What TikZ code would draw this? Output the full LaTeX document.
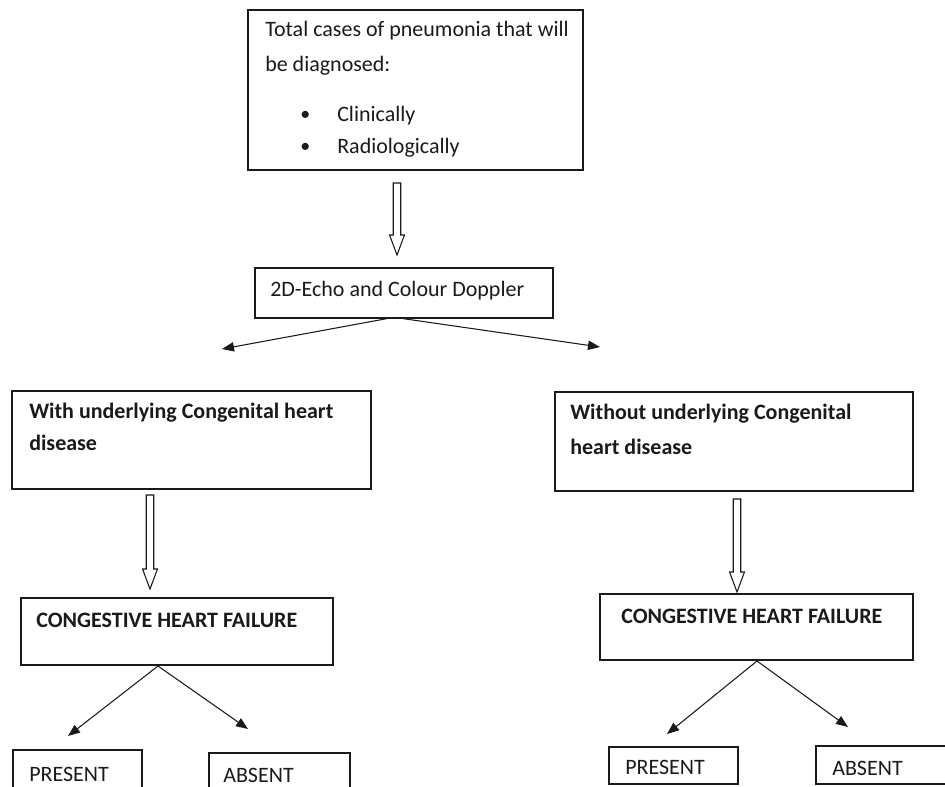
\documentclass[tikz,border=0pt]{standalone}
\usepackage{fontspec}
\setmainfont{Carlito}
\usetikzlibrary{arrows.meta,calc,fit}
\definecolor{ink}{HTML}{1A1A1A}
\tikzset{
  box/.style={draw=ink, line width=0.9pt, inner sep=0pt, fit={#1}},
  txt/.style={inner sep=0pt, anchor=west, text=ink, font=\fontsize{16.5}{19}\selectfont},
  btxt/.style={txt, font=\fontsize{16.5}{19}\selectfont\bfseries},
  thin/.style={draw=ink, line width=0.8pt, -{Triangle[length=9pt,width=7pt]}},
  hollow/.style={draw=ink, line width=0.8pt, fill=white}
}
\newcommand{\hollowarrow}[2]{%
  \path[hollow] let \p1=(#1), \p2=(#2) in
    (\x1-2.8pt,\y1) -- (\x1+2.8pt,\y1) -- (\x1+2.8pt,\y2+15pt) -- (\x1+5.6pt,\y2+15pt)
    -- (\x1,\y2) -- (\x1-5.6pt,\y2+15pt) -- (\x1-2.8pt,\y2+15pt) -- cycle;}
\begin{document}
\begin{tikzpicture}[x=0.75pt,y=-0.75pt]
\useasboundingbox (0,0) rectangle (945,786);
% boxes
\node[box={(248,10) (583,170)}] (top) {};
\node[box={(255,268) (553,318)}] (echo) {};
\node[box={(12,391) (371,489)}] (lbox) {};
\node[box={(555,392) (913,491)}] (rbox) {};
\node[box={(21,598) (333,665)}] (lchf) {};
\node[box={(600,594) (913,660)}] (rchf) {};
\node[box={(13,750) (142,792)}] (lp) {};
\node[box={(209,753) (350,792)}] (la) {};
\node[box={(609,747) (738,784)}] (rp) {};
\node[box={(816,746) (950,784)}] (ra) {};
% texts
\node[txt] (t1) at (265,31) {Total cases of pneumonia that will};
\node[txt] (t2) at (265,66) {be diagnosed:};
\node[txt, font=\fontsize{15}{15}\selectfont] (b1) at (300,116) {•};
\node[txt, font=\fontsize{15}{15}\selectfont] (b2) at (300,148) {•};
\node[txt] (t3) at (337,116) {Clinically};
\node[txt] (t4) at (337,148) {Radiologically};
\node[txt] (te) at (270,291) {2D-Echo and Colour Doppler};
\node[btxt] (tl1) at (29,413) {With underlying Congenital heart};
\node[btxt] (tl2) at (29,443) {disease};
\node[btxt] (tr1) at (570,414) {Without underlying Congenital};
\node[btxt] (tr2) at (570,447) {heart disease};
\node[btxt] (tlc) at (36,620) {CONGESTIVE HEART FAILURE};
\node[btxt] (trc) at (621,616) {CONGESTIVE HEART FAILURE};
\node[txt] (tlp) at (29,774) {PRESENT};
\node[txt] (tla) at (223,775) {ABSENT};
\node[txt] (trp) at (625,767) {PRESENT};
\node[txt] (tra) at (832,768) {ABSENT};
% hollow arrows
\coordinate (h1s) at (397,183); \coordinate (h1e) at (397,255);
\coordinate (h2s) at (150,495); \coordinate (h2e) at (150,589);
\coordinate (h3s) at (737,499); \coordinate (h3e) at (737,592);
\hollowarrow{h1s}{h1e}
\hollowarrow{h2s}{h2e}
\hollowarrow{h3s}{h3e}
% thin arrows
\coordinate (e1) at ($(echo.south)+(-17,0)$);
\coordinate (e2) at ($(echo.south)+(-1,0)$);
\coordinate (e1t) at (222,349);
\coordinate (e2t) at (600,347);
\draw[thin] (e1) -- (e1t);
\draw[thin] (e2) -- (e2t);
\coordinate (lc) at (158,666);
\coordinate (lct1) at (68,736);
\coordinate (lct2) at (248,729);
\draw[thin] (lc) -- (lct1);
\draw[thin] (lc) -- (lct2);
\coordinate (rc) at (757,661);
\coordinate (rct1) at (667,734);
\coordinate (rct2) at (848,727);
\draw[thin] (rc) -- (rct1);
\draw[thin] (rc) -- (rct2);
\end{tikzpicture}
\end{document}
